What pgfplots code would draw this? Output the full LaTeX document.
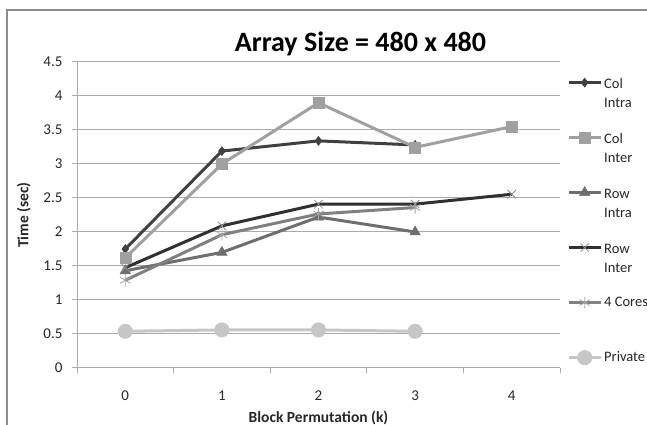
\documentclass[border=0pt]{standalone}
\usepackage{pgfplots}
\pgfplotsset{compat=1.18}
\usepackage{fontspec}
\setmainfont{Carlito}
\definecolor{cA}{HTML}{404040}
\definecolor{cB}{HTML}{A0A0A0}
\definecolor{cC}{HTML}{6E6E6E}
\definecolor{cD}{HTML}{303030}
\definecolor{cE}{HTML}{808080}
\definecolor{cF}{HTML}{C6C6C6}
\definecolor{gridc}{HTML}{AAAAAA}
\definecolor{framec}{HTML}{8C8C8C}
\begin{document}
\begin{tikzpicture}[x=1pt,y=1pt]
\useasboundingbox (0,0) rectangle (647,425);
\draw[framec, line width=2pt] (7,415) rectangle (700,-50);
\node[font=\fontsize{28}{32}\selectfont\bfseries, anchor=base] at (360.5,373) {Array Size = 480 x 480};
\begin{axis}[
  at={(77pt,57pt)}, anchor=south west,
  scale only axis, width=483pt, height=306pt,
  xmin=-0.5, xmax=4.5, ymin=0, ymax=4.5,
  xtick={0,1,2,3,4},
  xticklabels={0,1,2,3,4},
  minor xtick={-0.5,0.5,1.5,2.5,3.5,4.5},
  ytick={0,0.5,...,4.5},
  yticklabels={0,0.5,1,1.5,2,2.5,3,3.5,4,4.5},
  /pgf/number format/assume math mode=true,
  tick align=outside, tick pos=left,
  major tick length=5pt, minor tick length=5pt,
  x tick style={draw=none},
  minor x tick style={draw=gridc, line width=1pt},
  y tick style={draw=gridc, line width=1pt},
  ymajorgrids, grid style={gridc, line width=1pt},
  axis x line*=bottom, axis y line*=left,
  axis line style={gridc, line width=1pt, -},
  ticklabel style={font=\fontsize{15}{18}\selectfont, text=black!85},
  xticklabel style={yshift=-14pt},
  yticklabel style={xshift=-6pt},
  xlabel={Block Permutation (k)},
  ylabel={Time (sec)},
  xlabel style={font=\fontsize{15.5}{18}\selectfont\bfseries, text=black!85, at={(axis description cs:0.5,-0.163)}, anchor=center},
  ylabel style={font=\fontsize{15.5}{18}\selectfont\bfseries, text=black!85, at={(axis description cs:-0.110,0.5)}, anchor=center},
  legend image code/.code={\draw[mark repeat=2,mark phase=2,#1] plot coordinates {(0pt,0pt) (16pt,0pt) (32pt,0pt)};},
  legend style={at={(axis description cs:1.0145,0.964)}, anchor=north west, draw=none, fill=none, inner sep=0pt,
     row sep={55pt,between origins}, column sep=0pt,
     cells={anchor=mid west, inner sep=0pt, font=\fontsize{14.5}{19}\selectfont, text=black!85}},
  legend cell align=left,
]
\addplot[cA, line width=3pt, mark=diamond*, mark size=4.5pt, mark options={solid, fill=cA, line width=0.5pt}] coordinates {(0,1.75) (1,3.19) (2,3.34) (3,3.28)};
\addlegendentry{\begin{tabular}[t]{@{}l@{}}Col\\Intra\end{tabular}}
\addplot[cB, line width=3pt, mark=square*, mark size=5.5pt, mark options={solid, fill=cB, line width=0.5pt}] coordinates {(0,1.62) (1,3.0) (2,3.90) (3,3.245) (4,3.55)};
\addlegendentry{\begin{tabular}[t]{@{}l@{}}Col\\Inter\end{tabular}}
\addplot[cC, line width=3pt, mark=triangle*, mark size=6pt, mark options={solid, fill=cC, line width=0.5pt}] coordinates {(0,1.43) (1,1.70) (2,2.22) (3,2.0)};
\addlegendentry{\begin{tabular}[t]{@{}l@{}}Row\\Intra\end{tabular}}
\addplot[cD, line width=3pt, mark=x, mark size=6pt, mark options={solid, draw=black!45, line width=0.8pt}] coordinates {(0,1.475) (1,2.09) (2,2.41) (3,2.41) (4,2.555)};
\addlegendentry{\begin{tabular}[t]{@{}l@{}}Row\\Inter\end{tabular}}
\addplot[cE, line width=3pt, mark=asterisk, mark size=6pt, mark options={solid, draw=black!35, line width=0.8pt}] coordinates {(0,1.29) (1,1.96) (2,2.265) (3,2.36)};
\addlegendentry{4 Cores}
\addplot[cF, line width=3pt, mark=*, mark size=6pt, mark options={solid, fill=cF, draw=cF}] coordinates {(0,0.54) (1,0.56) (2,0.56) (3,0.54)};
\addlegendentry{Private}
\end{axis}
\end{tikzpicture}
\end{document}
